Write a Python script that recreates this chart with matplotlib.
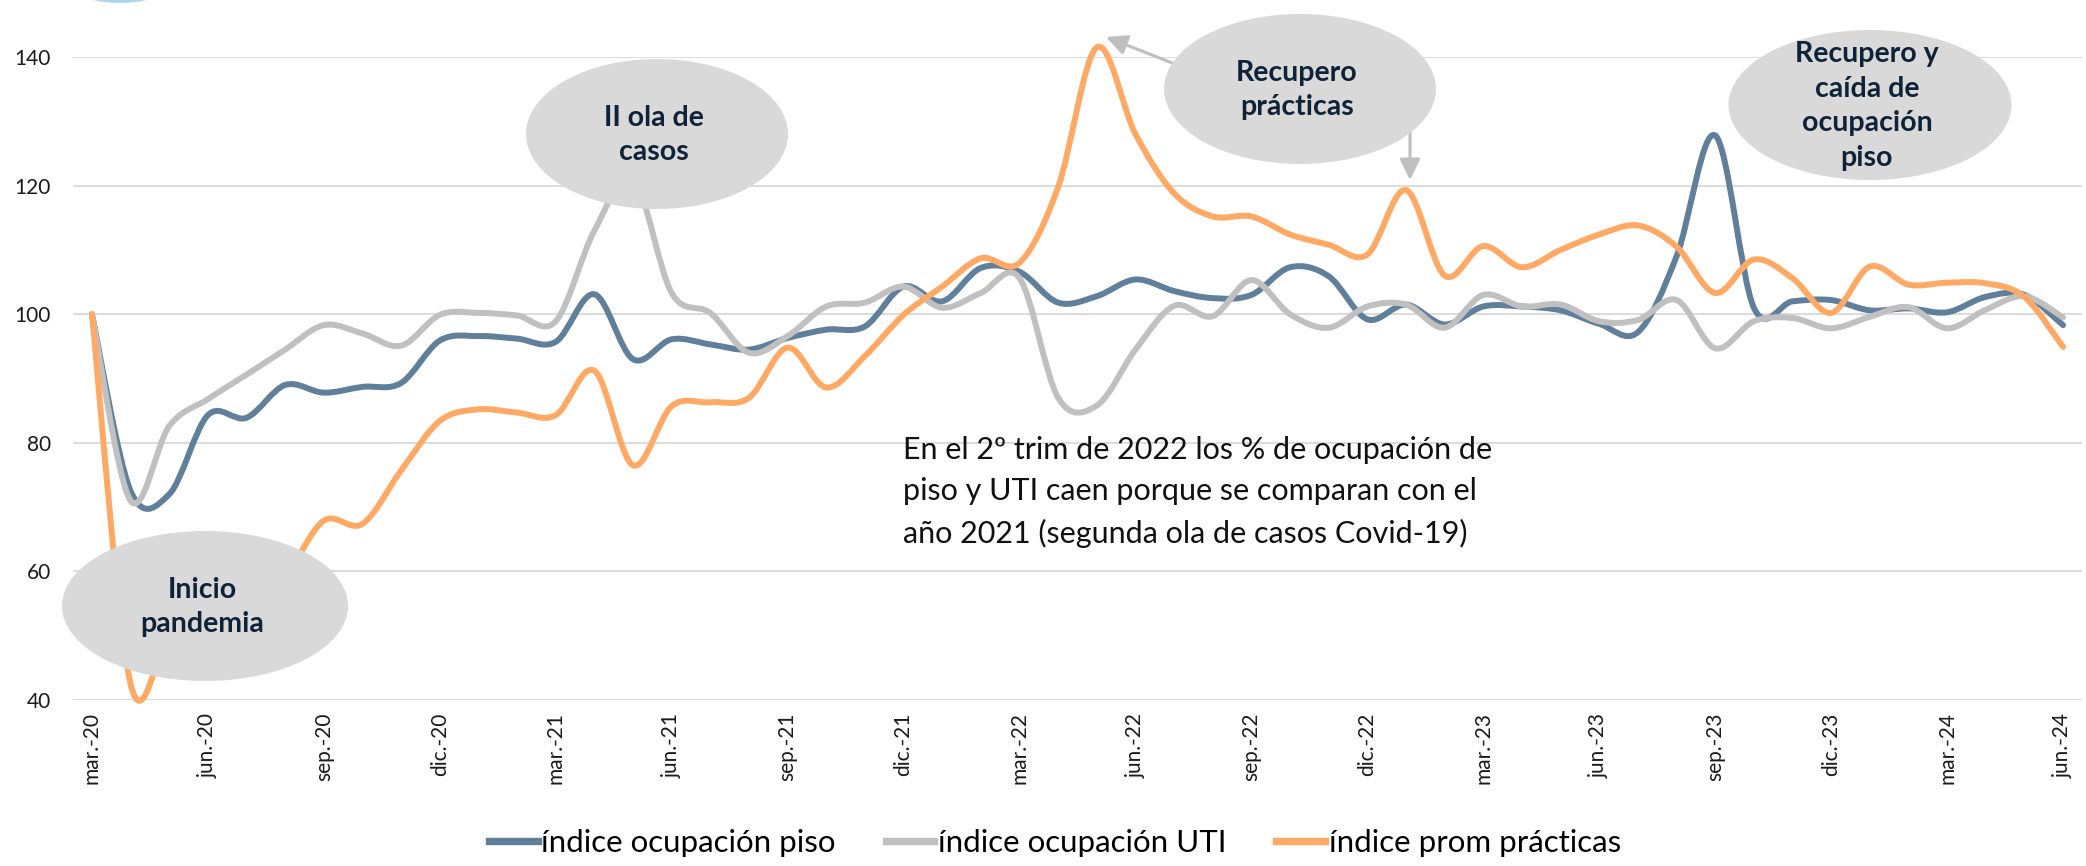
import numpy as np
import matplotlib
matplotlib.use('Agg')
import matplotlib.pyplot as plt
from matplotlib.path import Path
from matplotlib.patches import PathPatch, Ellipse, FancyArrowPatch
from matplotlib.lines import Line2D

# ---------------- data ----------------
months = [
    "mar.-20", "abr.-20", "may.-20", "jun.-20", "jul.-20", "ago.-20", "sep.-20", "oct.-20", "nov.-20", "dic.-20",
    "ene.-21", "feb.-21", "mar.-21", "abr.-21", "may.-21", "jun.-21", "jul.-21", "ago.-21", "sep.-21", "oct.-21",
    "nov.-21", "dic.-21", "ene.-22", "feb.-22", "mar.-22", "abr.-22", "may.-22", "jun.-22", "jul.-22", "ago.-22",
    "sep.-22", "oct.-22", "nov.-22", "dic.-22", "ene.-23", "feb.-23", "mar.-23", "abr.-23", "may.-23", "jun.-23",
    "jul.-23", "ago.-23", "sep.-23", "oct.-23", "nov.-23", "dic.-23", "ene.-24", "feb.-24", "mar.-24", "abr.-24",
    "may.-24", "jun.-24",
]

ocupacion_piso = [
    100, 72.5, 72.0, 84.3, 83.9, 89.0, 87.8, 88.7, 89.3, 95.9,
    96.6, 96.2, 95.7, 103.1, 93.0, 96.1, 95.3, 94.5, 96.3, 97.6,
    98.1, 104.3, 102.0, 107.2, 106.6, 101.8, 102.8, 105.4, 103.6, 102.5,
    103.0, 107.3, 105.9, 99.2, 101.5, 98.4, 101.2, 101.2, 100.6, 98.5,
    97.2, 109.0, 127.8, 101.0, 102.0, 102.2, 100.6, 100.9, 100.3, 102.7,
    103.0, 98.3,
]

ocupacion_uti = [
    100, 71.0, 82.6, 86.8, 90.6, 94.5, 98.3, 97.0, 95.1, 99.9,
    100.2, 99.8, 98.9, 113.0, 121.0, 103.3, 100.2, 94.0, 96.6, 101.2,
    101.8, 104.3, 101.0, 103.3, 105.6, 87.0, 85.8, 94.5, 101.3, 99.7,
    105.3, 100.0, 97.9, 101.2, 101.5, 97.9, 103.0, 101.2, 101.5, 98.9,
    99.1, 102.2, 94.7, 98.9, 99.4, 97.8, 99.6, 101.1, 97.8, 100.7,
    102.8, 99.5,
]

prom_practicas = [
    100, 42.5, 50.0, 53.5, 56.5, 59.5, 67.9, 67.4, 75.7, 83.4,
    85.2, 84.7, 84.3, 91.2, 76.5, 85.7, 86.3, 87.0, 94.8, 88.6,
    93.5, 99.9, 104.3, 108.7, 108.0, 119.8, 141.5, 128.0, 118.8, 115.2,
    115.2, 112.4, 110.8, 109.3, 119.3, 106.0, 110.6, 107.3, 110.0, 112.4,
    113.8, 110.5, 103.3, 108.5, 105.6, 100.2, 107.4, 104.6, 104.9, 104.8,
    102.7, 94.9,
]

series_names = ["índice ocupación piso", "índice ocupación UTI", "índice prom prácticas"]
y_ticks = [40, 60, 80, 100, 120, 140]

# ---------------- styling ----------------
W, H = 2086, 866
C_PISO = "#607f9b"
C_UTI = "#c0c0c0"
C_PRAC = "#ffa964"
C_BUBBLE = "#d9d9d9"
C_BTXT = "#0f2338"
LW = 4.3


def fx(px):
    return px / W


def fy(py):
    return 1 - py / H


def smooth_path(x, y):
    """Excel-like smoothed line: cubic Bezier through every data point."""
    pts = np.column_stack([x, y]).astype(float)
    n = len(pts)
    verts = [pts[0]]
    codes = [Path.MOVETO]
    for i in range(n - 1):
        p0 = pts[i - 1] if i > 0 else pts[i]
        p1 = pts[i]
        p2 = pts[i + 1]
        p3 = pts[i + 2] if i + 2 < n else pts[i + 1]
        c1 = p1 + (p2 - p0) / 6.0
        c2 = p2 - (p3 - p1) / 6.0
        verts += [c1, c2, p2]
        codes += [Path.CURVE4] * 3
    return Path(np.array(verts), codes)


fig = plt.figure(figsize=(W / 100, H / 100), dpi=100)
fig.patch.set_facecolor("white")
ax = fig.add_axes([fx(73), fy(700), fx(2082 - 73), (700 - 57) / H])

x = np.arange(len(months))
ax.set_xlim(-0.49, len(months) - 1 + 0.49)
ax.set_ylim(40, 140)

for vals, col, z in [(ocupacion_piso, C_PISO, 2), (ocupacion_uti, C_UTI, 3), (prom_practicas, C_PRAC, 4)]:
    patch = PathPatch(smooth_path(x, vals), facecolor="none", edgecolor=col, lw=LW,
                      capstyle="round", joinstyle="round", transform=ax.transData,
                      clip_on=False, zorder=z)
    ax.add_patch(patch)

ax.set_yticks(y_ticks)
ax.set_yticklabels([str(v) for v in y_ticks], fontsize=15, family="Lato", color="#1a1a1a")
ax.set_xticks(x[::3])
ax.set_xticklabels(months[::3], rotation=90, fontsize=15, family="Lato", color="#1a1a1a")
ax.tick_params(axis="both", length=0)
ax.tick_params(axis="y", pad=16)
ax.tick_params(axis="x", pad=9)
ax.yaxis.grid(True, color="#d9d9d9", lw=1.3)
ax.set_axisbelow(True)
for s in ax.spines.values():
    s.set_visible(False)

# legend
handles = [Line2D([0], [0], color=c, lw=LW + 1) for c in (C_PISO, C_UTI, C_PRAC)]
fig.legend(handles, series_names, loc="center", bbox_to_anchor=(fx(1055), fy(843)),
           ncol=3, frameon=False, prop={"family": "Lato", "size": 22.5},
           handlelength=1.55, handletextpad=0.12, columnspacing=1.6)

# decorative circle at top-left (partially off canvas)
fig.add_artist(Ellipse((fx(120), fy(-120)), 246 / W, 246 / H, transform=fig.transFigure,
                       facecolor="#a9d7e6", edgecolor="none", zorder=1))

# arrows
arrow_kw = dict(arrowstyle="-|>,head_length=0.45,head_width=0.22", mutation_scale=28,
                color="#bfbfbf", lw=2.2, transform=fig.transFigure, zorder=5)
fig.add_artist(FancyArrowPatch((fx(1180), fy(66)), (fx(1106), fy(37)), shrinkA=0, shrinkB=0, **arrow_kw))
fig.add_artist(FancyArrowPatch((fx(1410), fy(130)), (fx(1410), fy(180)), shrinkA=0, shrinkB=0, **arrow_kw))

# bubbles
bubbles = [
    ((205, 606), 286, 150, "Inicio\npandemia"),
    ((657, 134), 262, 150, "II ola de\ncasos"),
    ((1300, 89), 272, 150, "Recupero\nprácticas"),
    ((1870, 105), 283, 150, "Recupero y\ncaída de\nocupación\npiso"),
]
for (cx, cy), w, h, label in bubbles:
    fig.add_artist(Ellipse((fx(cx), fy(cy)), w / W, h / H, transform=fig.transFigure,
                           facecolor=C_BUBBLE, edgecolor="none", zorder=6))
    fig.text(fx(cx - 3), fy(cy + 1), label, ha="center", va="center", fontsize=20.5,
             family="Lato", weight="bold", color=C_BTXT, linespacing=1.42, zorder=7)

# explanatory note
fig.text(fx(903), fy(436),
         "En el 2º trim de 2022 los % de ocupación de\n"
         "piso y UTI caen porque se comparan con el\n"
         "año 2021 (segunda ola de casos Covid-19)",
         ha="left", va="top", fontsize=22, family="Lato", color="#111111",
         linespacing=1.58, zorder=7)

fig.savefig("out.png", dpi=100, facecolor="white")
